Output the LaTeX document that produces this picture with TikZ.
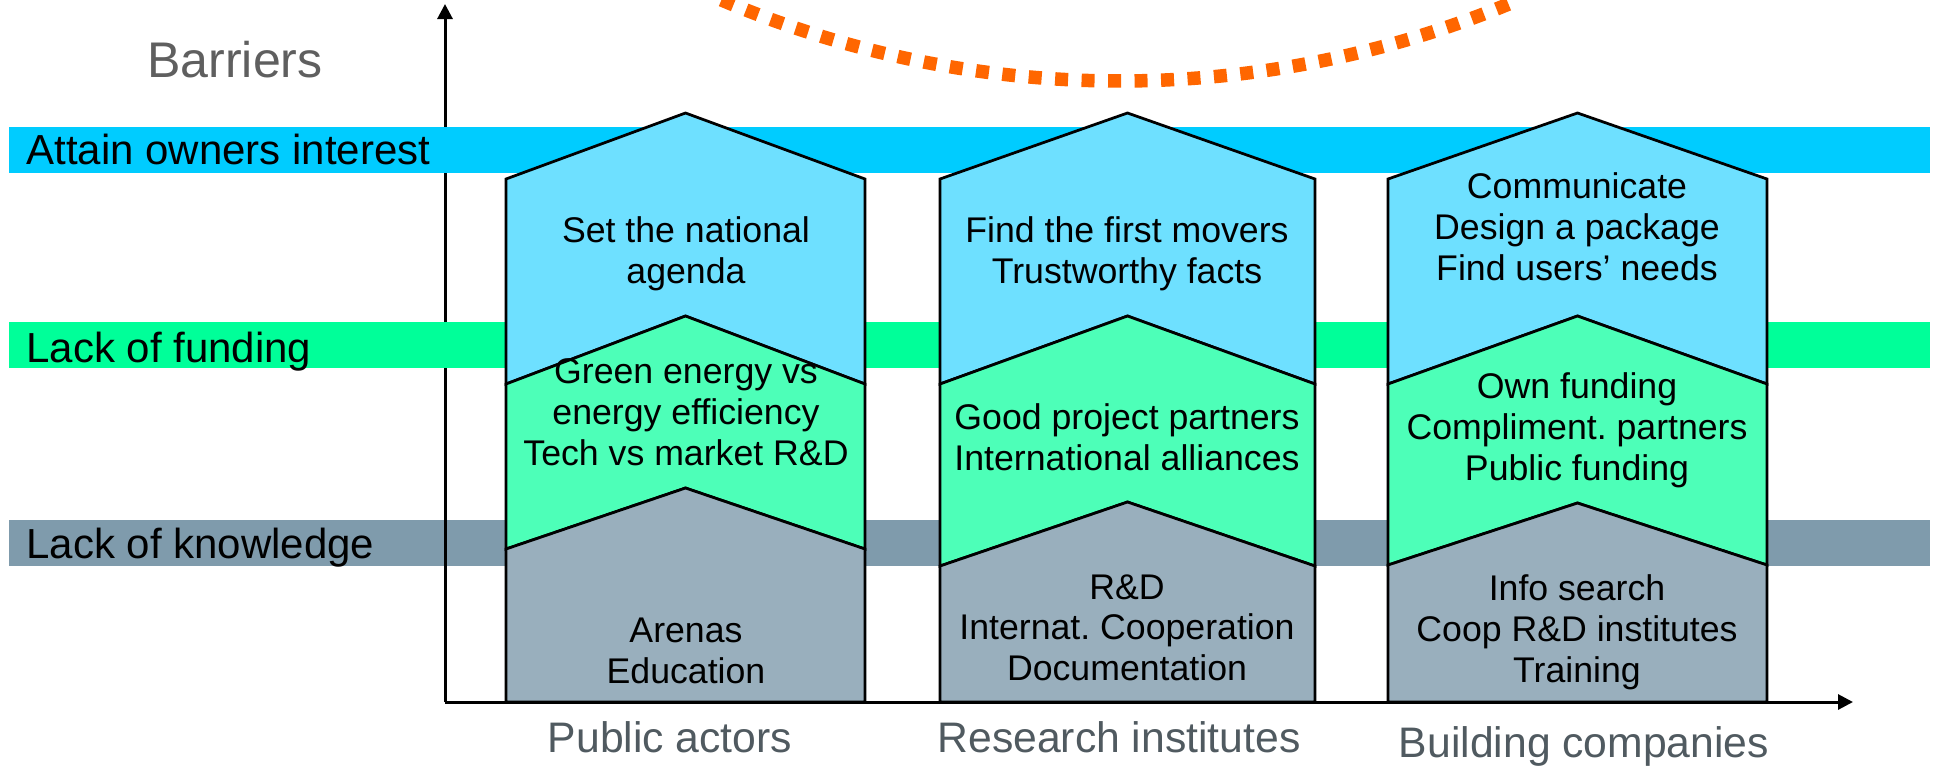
\documentclass[tikz,border=0pt]{standalone}
\usepackage{fontspec}
\setmainfont{Liberation Sans}
\usetikzlibrary{arrows.meta}
\frenchspacing

\definecolor{ownersband}{RGB}{0,204,255}
\definecolor{fundingband}{RGB}{0,255,153}
\definecolor{knowledgeband}{RGB}{127,155,172}
\definecolor{boxblue}{RGB}{110,224,255}
\definecolor{boxgreen}{RGB}{77,255,184}
\definecolor{boxgray}{RGB}{153,175,189}
\definecolor{arcorange}{RGB}{255,102,0}
\definecolor{titlegray}{RGB}{95,95,95}
\definecolor{actorgray}{RGB}{80,90,96}

\tikzset{
  axis/.style={line width=0.6mm,-{Triangle[length=3mm,width=3mm]}},
  boxline/.style={line width=0.55mm,draw=black},
  boxtext/.style={anchor=north,align=center,inner sep=0pt,font=\fontsize{20.3}{23.3}\selectfont},
  bandtext/.style={anchor=base west,inner sep=0pt,font=\fontsize{23.9}{26}\selectfont},
  actortext/.style={anchor=base,inner sep=0pt,text=actorgray,font=\fontsize{24.3}{27}\selectfont}
}

\begin{document}
\begin{tikzpicture}[x=0.2mm,y=-0.2mm]
  \useasboundingbox (0,0) rectangle (1933,771);
  \draw[arcorange,line width=2.7mm,dash pattern=on 2.6mm off 2.7mm] (1120,-939) ++(113:1020) arc[start angle=113,end angle=67,radius=1020];
  \fill[knowledgeband] (9,520) rectangle (1930,566);
  \coordinate (origin) at (445,702);
  \coordinate (ytip) at (445,4);
  \coordinate (xtip) at (1853,702);
  \draw[axis] (origin) -- (ytip);
  \draw[axis] (origin) -- (xtip);
  \fill[ownersband] (9,127) rectangle (1930,173);
  \fill[fundingband] (9,322) rectangle (1930,368);
  \foreach \c/\l/\r/\s/\p in {pub/506/865/549/488, res/940/1315/566/502, bld/1388/1767/565/503}{
    \pgfmathsetmacro\m{(\l+\r)/2}
    \filldraw[boxline,fill=boxblue] (\l,179) -- (\m,113) -- (\r,179) -- (\r,384) -- (\m,316) -- (\l,384) -- cycle;
    \filldraw[boxline,fill=boxgreen] (\l,384) -- (\m,316) -- (\r,384) -- (\r,\s) -- (\m,\p) -- (\l,\s) -- cycle;
    \filldraw[boxline,fill=boxgray] (\l,\s) -- (\m,\p) -- (\r,\s) -- (\r,702) -- (\l,702) -- cycle;
  }
  \node[anchor=base west,inner sep=0pt,text=titlegray,font=\fontsize{28.5}{30}\selectfont] (barriers) at (147,77) {Barriers};
  \node[bandtext] (owners) at (26,164) {Attain owners interest};
  \node[bandtext] (funding) at (26,362) {Lack of funding};
  \node[bandtext] (knowledge) at (26,558) {Lack of knowledge};
  \node[boxtext] (pubtop) at (686,216) {Set the national\\agenda};
  \node[boxtext] (pubmid) at (686,358) {Green energy vs\\energy efficiency\\Tech vs market R\&D};
  \node[boxtext] (pubbot) at (686,618) {Arenas\\Education};
  \node[boxtext] (restop) at (1127,216) {Find the first movers\\Trustworthy facts};
  \node[boxtext] (resmid) at (1127,403) {Good project partners\\International alliances};
  \node[boxtext] (resbot) at (1127,574) {R\&D\\Internat. Cooperation\\Documentation};
  \node[boxtext] (bldtop) at (1577,172) {Communicate\\Design a package\\Find users’ needs};
  \node[boxtext] (bldmid) at (1577,372) {Own funding\\Compliment. partners\\Public funding};
  \node[boxtext] (bldbot) at (1577,574) {Info search\\Coop R\&D institutes\\Training};
  \node[actortext] (public) at (670,752) {Public actors};
  \node[actortext] (research) at (1119,752) {Research institutes};
  \node[actortext] (building) at (1584,757) {Building companies};
\end{tikzpicture}
\end{document}
